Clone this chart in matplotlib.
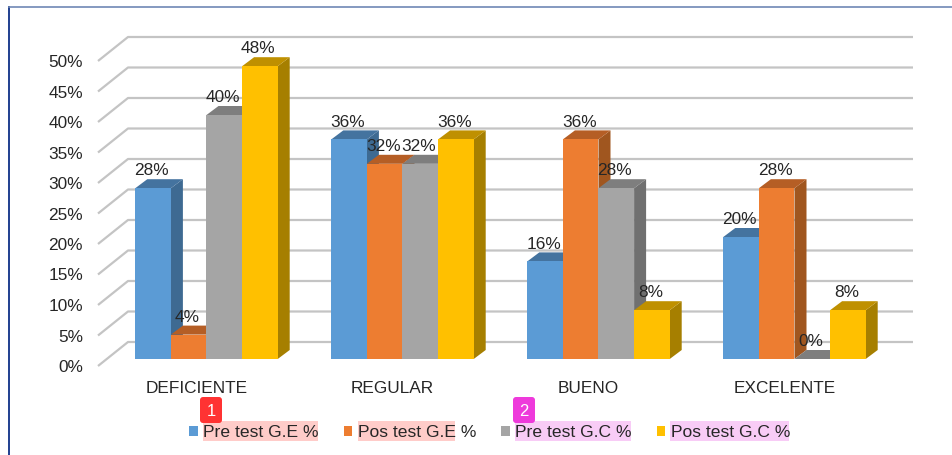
import numpy as np
import matplotlib
matplotlib.use('Agg')
import matplotlib.pyplot as plt
from matplotlib.patches import Polygon, Rectangle, FancyBboxPatch, Patch
from matplotlib.lines import Line2D
from matplotlib.transforms import IdentityTransform

plt.rcParams['font.family'] = ['Liberation Sans', 'DejaVu Sans']

categories = ['DEFICIENTE', 'REGULAR', 'BUENO', 'EXCELENTE']
series_names = ['Pre test G.E %', 'Pos test G.E %', 'Pre test G.C %', 'Pos test G.C %']
pre_ge = [28, 36, 16, 20]
pos_ge = [4, 32, 36, 28]
pre_gc = [40, 32, 28, 0]
pos_gc = [48, 36, 8, 8]
grid_values = [0, 5, 10, 15, 20, 25, 30, 35, 40, 45, 50]

front = ['#5B9BD5', '#ED7D31', '#A5A5A5', '#FFC000']
side = ['#3E6A92', '#A0561F', '#707070', '#A67F00']
top = ['#44739F', '#B55E25', '#7E7E7E', '#BF9000']
text_col = '#262626'

W, H = 953, 455
# pixel geometry of the fake 3d box
px_per_unit_x = 196.0
px_per_unit_y = 6.1
first_center = 206.5
floor_py = 359.0
left_px, right_px = 98, 913
top_py, bottom_py = 20, 366

fig = plt.figure(figsize=(W / 100, H / 100), dpi=100, facecolor='white')
ax = fig.add_axes([left_px / W, 1 - bottom_py / H, (right_px - left_px) / W, (bottom_py - top_py) / H])
ax.set_xlim((left_px - first_center) / px_per_unit_x, (right_px - first_center) / px_per_unit_x)
ax.set_ylim((floor_py - bottom_py) / px_per_unit_y, (floor_py - top_py) / px_per_unit_y)
for s in ax.spines.values():
    s.set_visible(False)

bar_w = 35.6 / px_per_unit_x
dep_x = 12 / px_per_unit_x
dep_y = 9 / px_per_unit_y

# grid: a slanted piece on the side wall then the line along the back
front_drop = (bottom_py - floor_py) / px_per_unit_y
back_rise = 17 / px_per_unit_y
x0, x1 = ax.get_xlim()
x_back = x0 + 30 / px_per_unit_x
for v in grid_values:
    ax.plot([x0, x_back, x1], [v - front_drop, v + back_rise, v + back_rise],
            color='#C4C4C4', lw=1.6, solid_capstyle='butt', clip_on=False, zorder=1)

all_series = [pre_ge, pos_ge, pre_gc, pos_gc]
z = 2
for i in range(len(categories)):
    for j, vals in enumerate(all_series):
        v = vals[i]
        left = i + (j - 2) * bar_w
        right = left + bar_w
        ax.add_patch(Polygon([(right, 0), (right + dep_x, dep_y), (right + dep_x, v + dep_y), (right, v)],
                             facecolor=side[j], edgecolor='none', zorder=z))
        ax.add_patch(Polygon([(left, v), (left + dep_x, v + dep_y), (right + dep_x, v + dep_y), (right, v)],
                             facecolor=top[j], edgecolor='none', zorder=z))
        ax.bar(left, v, width=bar_w, align='edge', color=front[j], zorder=z + 0.5)
        ax.text(left + bar_w / 2 - 1.5 / px_per_unit_x, v + 2.85, '%d%%' % v, ha='center', va='center',
                fontsize=12.4, color=text_col, zorder=50)
        z += 1

ax.set_yticks([v - front_drop for v in grid_values])
ax.set_yticklabels(['%d%%' % v for v in grid_values], fontsize=12.4, color=text_col)
ax.set_xticks([i - 10 / px_per_unit_x for i in range(len(categories))])
ax.set_xticklabels(categories, fontsize=12.4, color=text_col)
ax.tick_params(axis='y', length=0, pad=10.8)
ax.tick_params(axis='x', length=0, pad=10.5)
ax.patch.set_visible(False)

# highlight boxes behind the legend text
for x, w, c in [(203, 115, '#FFCCC9'), (358, 97, '#FFCCC9'), (515, 116, '#F8CCF6'), (670, 119, '#F8CCF6')]:
    fig.add_artist(Rectangle((x, H - 441), w, 20, transform=IdentityTransform(),
                             facecolor=c, edgecolor='none', zorder=0))

handles = [Patch(facecolor=c, edgecolor='none') for c in front]
leg = fig.legend(handles, series_names, loc='center', bbox_to_anchor=(489.5 / W, 1 - 432.5 / H), ncols=4,
                 frameon=False, fontsize=12.6, labelcolor=text_col, handlelength=0.5, handleheight=0.5,
                 handletextpad=0.3, columnspacing=1.43, borderpad=0, borderaxespad=0)
leg.set_zorder(5)

# numbered badges
for x, label, c in [(200, '1', '#FF3333'), (513, '2', '#EE3ADB')]:
    fig.add_artist(FancyBboxPatch((x, H - 423), 22, 26, boxstyle='round,pad=0,rounding_size=3',
                                  transform=IdentityTransform(), facecolor=c, edgecolor='none', zorder=6))
    fig.text((x + 11) / W, 1 - 411 / H, label, color='white', fontsize=12, ha='center', va='center', zorder=7)

# window frame
fig.add_artist(Line2D([9 / W, 9 / W], [0, 1 - 7 / H], color='#1F3F8F', lw=1.4))
fig.add_artist(Line2D([9 / W, 1], [1 - 7 / H, 1 - 7 / H], color='#6F88B5', lw=1.2))

fig.savefig('out.png', dpi=100)
